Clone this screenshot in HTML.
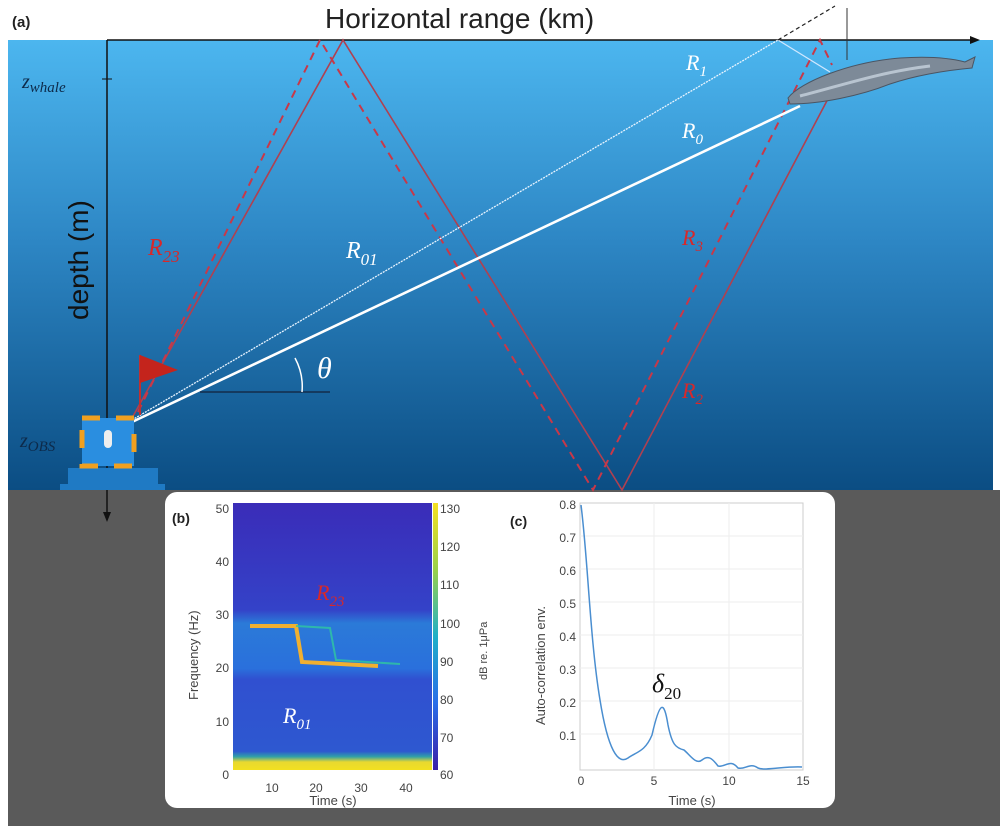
<!DOCTYPE html>
<html><head><meta charset="utf-8"><style>
html,body{margin:0;padding:0;background:#fff}
svg{display:block;font-family:"Liberation Sans",sans-serif}
</style></head><body>
<svg width="1000" height="826" viewBox="0 0 1000 826" xmlns="http://www.w3.org/2000/svg">
<defs>
<linearGradient id="water" x1="0" y1="0" x2="0" y2="1">
<stop offset="0" stop-color="#4cb6ef"/>
<stop offset="0.45" stop-color="#2d86c4"/>
<stop offset="1" stop-color="#0b4d83"/>
</linearGradient>
<linearGradient id="cb" x1="0" y1="1" x2="0" y2="0">
<stop offset="0" stop-color="#3a1fa8"/><stop offset="0.25" stop-color="#2a6ee8"/>
<stop offset="0.5" stop-color="#1fb0c8"/><stop offset="0.75" stop-color="#9ad04a"/><stop offset="1" stop-color="#f5e020"/>
</linearGradient>
<linearGradient id="spec" x1="0" y1="0" x2="0" y2="1">
<stop offset="0" stop-color="#3a2cb8"/><stop offset="0.4" stop-color="#3442c8"/>
<stop offset="0.45" stop-color="#2b7ad8"/><stop offset="0.62" stop-color="#2a70dc"/>
<stop offset="0.66" stop-color="#3050d0"/><stop offset="0.93" stop-color="#2e58d0"/>
<stop offset="0.95" stop-color="#30a0a8"/><stop offset="0.97" stop-color="#e8d830"/><stop offset="1" stop-color="#f2e020"/>
</linearGradient>
</defs>
<rect x="0" y="0" width="1000" height="826" fill="#fff"/>
<rect x="8" y="40" width="985" height="450" fill="url(#water)"/>
<rect x="8" y="490" width="992" height="336" fill="#5a5a5a"/>
<text x="12" y="27" font-size="15" font-weight="bold" fill="#222">(a)</text>
<text x="325" y="28" font-size="28" fill="#222">Horizontal range (km)</text>
<line x1="107" y1="40" x2="975" y2="40" stroke="#111" stroke-width="1.5"/>
<polygon points="980,40 970,36 970,44" fill="#111"/>
<line x1="107" y1="40" x2="107" y2="515" stroke="#111" stroke-width="1.5"/>
<polygon points="107,522 103,512 111,512" fill="#111"/>
<line x1="102" y1="79" x2="112" y2="79" stroke="#111"/>
<text x="22" y="88" font-size="20" font-style="italic" font-family="Liberation Serif" fill="#0d2a4a">z<tspan font-size="15" dy="4">whale</tspan></text>
<text x="20" y="447" font-size="20" font-style="italic" font-family="Liberation Serif" fill="#0d2a4a">z<tspan font-size="15" dy="4">OBS</tspan></text>
<text transform="translate(88,320) rotate(-90)" font-size="28" fill="#111">depth (m)</text>
<polyline points="132,418 343,40 622,490 830,95" fill="none" stroke="#b04050" stroke-width="1.6"/>
<polyline points="138,412 320,40 593,490 820,40 832,65" fill="none" stroke="#c83848" stroke-width="2" stroke-dasharray="8,6"/>
<line x1="132" y1="420" x2="778" y2="40" stroke="#e8f4ff" stroke-width="1.3" stroke-dasharray="2,1"/>
<line x1="778" y1="40" x2="830" y2="72" stroke="#cfe8ff" stroke-width="1.3"/>
<line x1="132" y1="422" x2="800" y2="106" stroke="#fff" stroke-width="2.6"/>
<line x1="778" y1="40" x2="835" y2="6" stroke="#222" stroke-width="1.2" stroke-dasharray="4,3"/>
<line x1="847" y1="8" x2="847" y2="60" stroke="#333" stroke-width="1"/>
<line x1="200" y1="392" x2="330" y2="392" stroke="#112" stroke-width="1"/>
<path d="M295,358 A60,60 0 0 1 302,392" fill="none" stroke="#fff" stroke-width="1.5"/>
<text x="317" y="378" font-size="30" font-style="italic" font-family="Liberation Serif" fill="#fff">θ</text>
<text x="686" y="70" font-size="22" font-style="italic" font-family="Liberation Serif" fill="#fff">R<tspan font-size="15" dy="6">1</tspan></text>
<text x="682" y="138" font-size="22" font-style="italic" font-family="Liberation Serif" fill="#fff">R<tspan font-size="15" dy="6">0</tspan></text>
<text x="346" y="258" font-size="24" font-style="italic" font-family="Liberation Serif" fill="#fff">R<tspan font-size="17" dy="7">01</tspan></text>
<text x="148" y="255" font-size="24" font-style="italic" font-family="Liberation Serif" fill="#d8282a">R<tspan font-size="17" dy="7">23</tspan></text>
<text x="682" y="245" font-size="22" font-style="italic" font-family="Liberation Serif" fill="#d8282a">R<tspan font-size="15" dy="6">3</tspan></text>
<text x="682" y="398" font-size="22" font-style="italic" font-family="Liberation Serif" fill="#d8282a">R<tspan font-size="15" dy="6">2</tspan></text>
<path d="M788,98 C800,82 850,62 900,58 C930,56 950,58 965,62 L975,57 L972,68 C950,70 920,74 890,84 C860,96 820,104 790,104 Z" fill="#7d8a98" stroke="#4a5563" stroke-width="1"/>
<path d="M800,96 C840,86 880,72 930,66" fill="none" stroke="#b8c4d0" stroke-width="3"/>
<line x1="140" y1="415" x2="140" y2="355" stroke="#c03030" stroke-width="2"/>
<polygon points="140,355 178,370 140,383" fill="#c4241c"/>
<rect x="68" y="468" width="90" height="20" fill="#1f7ac4"/>
<rect x="60" y="484" width="105" height="6" fill="#1f7ac4"/>
<rect x="82" y="418" width="52" height="48" fill="#2a8ee0" stroke="#f0a020" stroke-width="5" stroke-dasharray="18,16"/>
<rect x="104" y="430" width="8" height="18" rx="4" fill="#eee"/>
<rect x="165" y="492" width="670" height="316" rx="12" fill="#fff"/>
<text x="172" y="523" font-size="14" font-weight="bold" fill="#222">(b)</text>
<rect x="233" y="503" width="199" height="267" fill="url(#spec)"/>
<polyline points="250,626 296,626 302,662 378,666" fill="none" stroke="#f0b030" stroke-width="4"/>
<polyline points="296,626 330,628 336,660 400,664" fill="none" stroke="#30c8a0" stroke-width="2" opacity="0.8"/>
<rect x="433" y="503" width="5" height="267" fill="url(#cb)"/>
<text x="316" y="600" font-size="22" font-style="italic" font-family="Liberation Serif" fill="#d82828">R<tspan font-size="15" dy="6">23</tspan></text>
<text x="283" y="723" font-size="22" font-style="italic" font-family="Liberation Serif" fill="#fff">R<tspan font-size="15" dy="6">01</tspan></text>
<g font-size="12" fill="#444" text-anchor="end">
<text x="229" y="513">50</text><text x="229" y="566">40</text><text x="229" y="619">30</text>
<text x="229" y="672">20</text><text x="229" y="726">10</text><text x="229" y="779">0</text>
</g>
<g font-size="12" fill="#444">
<text x="440" y="513">130</text><text x="440" y="551">120</text><text x="440" y="589">110</text>
<text x="440" y="628">100</text><text x="440" y="666">90</text><text x="440" y="704">80</text>
<text x="440" y="742">70</text><text x="440" y="779">60</text>
</g>
<g font-size="12" fill="#444" text-anchor="middle">
<text x="272" y="792">10</text><text x="316" y="792">20</text><text x="361" y="792">30</text><text x="406" y="792">40</text>
<text x="333" y="805" font-size="13">Time (s)</text>
</g>
<text transform="translate(198,700) rotate(-90)" font-size="13" fill="#444">Frequency (Hz)</text>
<text transform="translate(487,680) rotate(-90)" font-size="11" fill="#444">dB re. 1μPa</text>
<text x="510" y="526" font-size="14" font-weight="bold" fill="#222">(c)</text>
<rect x="580" y="503" width="223" height="267" fill="#fff" stroke="#ccc"/>
<g stroke="#eee"><line x1="654" y1="503" x2="654" y2="770"/><line x1="729" y1="503" x2="729" y2="770"/>
<line x1="580" y1="734" x2="803" y2="734"/><line x1="580" y1="701" x2="803" y2="701"/><line x1="580" y1="668" x2="803" y2="668"/>
<line x1="580" y1="635" x2="803" y2="635"/><line x1="580" y1="602" x2="803" y2="602"/><line x1="580" y1="569" x2="803" y2="569"/><line x1="580" y1="536" x2="803" y2="536"/></g>
<path d="M581,505 C588,560 590,640 600,700 C608,750 618,765 628,758 C636,752 645,752 652,735 C660,700 664,700 668,725 C672,745 676,748 684,750 C690,755 696,765 702,760 C708,755 712,758 718,766 C725,768 730,758 738,768 C745,770 750,762 758,768 C765,771 785,766 802,767" fill="none" stroke="#4a8ed0" stroke-width="1.5"/>
<g font-size="12" fill="#444" text-anchor="end">
<text x="576" y="509">0.8</text><text x="576" y="542">0.7</text><text x="576" y="575">0.6</text><text x="576" y="608">0.5</text>
<text x="576" y="641">0.4</text><text x="576" y="674">0.3</text><text x="576" y="707">0.2</text><text x="576" y="740">0.1</text>
</g>
<g font-size="12" fill="#444" text-anchor="middle">
<text x="581" y="785">0</text><text x="654" y="785">5</text><text x="729" y="785">10</text><text x="803" y="785">15</text>
<text x="692" y="805" font-size="13">Time (s)</text>
</g>
<text transform="translate(545,725) rotate(-90)" font-size="13" fill="#444">Auto-correlation env.</text>
<text x="652" y="692" font-size="26" font-style="italic" font-family="Liberation Serif" fill="#111">δ<tspan font-size="17" dy="7" font-style="normal">20</tspan></text>
</svg>
</body></html>
